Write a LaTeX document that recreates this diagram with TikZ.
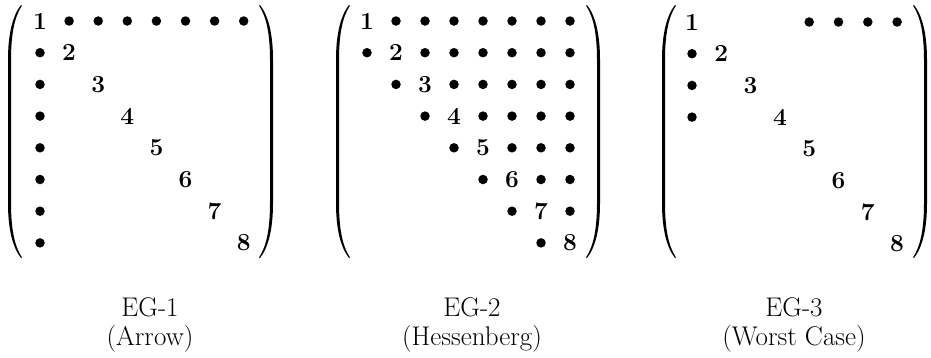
\documentclass[tikz,border=0pt]{standalone}
\begin{document}
\begin{tikzpicture}[x=1pt,y=-1pt,
  dig/.style={font=\fontsize{24.5}{24.5}\selectfont\bfseries, inner sep=0pt},
  lab/.style={font=\fontsize{27}{27}\selectfont, inner sep=0pt, anchor=base},
  dot/.style={circle, fill=black, inner sep=0pt, minimum size=9.5pt},
  lpar/.pic={\fill (0,0) .. controls (-8,10) and (-13,28) .. (-13,55) -- (-13,198)
     .. controls (-13,225) and (-8,243) .. (0,253) -- (0.9,252.4)
     .. controls (-6.5,241) and (-10,224) .. (-10,198) -- (-10,55)
     .. controls (-10,29) and (-6.5,12) .. (0.9,0.6) -- cycle;},
  rpar/.pic={\begin{scope}[xscale=-1]\fill (0,0) .. controls (-8,10) and (-13,28) .. (-13,55) -- (-13,198)
     .. controls (-13,225) and (-8,243) .. (0,253) -- (0.9,252.4)
     .. controls (-6.5,241) and (-10,224) .. (-10,198) -- (-10,55)
     .. controls (-10,29) and (-6.5,12) .. (0.9,0.6) -- cycle;\end{scope}}]
\useasboundingbox (0,0) rectangle (931,357);

% ---------- EG-1 (Arrow)
\foreach \i in {1,...,8} {
  \node[dig] (a\i-\i) at ({40+29.1*(\i-1)},{21+31.7*(\i-1)}) {\i};
}
\foreach \j in {2,...,8} {
  \node[dot] (a1-\j) at ({40+29.1*(\j-1)},21) {};
  \node[dot] (a\j-1) at (40,{21+31.7*(\j-1)}) {};
}
\pic at (21,5) {lpar};
\pic at (260,5) {rpar};
\node[lab] (t1) at (150,316) {EG-1};
\node[lab] (s1) at (150,345) {(Arrow)};

% ---------- EG-2 (Hessenberg)
\foreach \i in {1,...,8} {
  \node[dig] (b\i-\i) at ({367+29.0*(\i-1)},{21+31.7*(\i-1)}) {\i};
  \foreach \j in {1,...,8} {
    \ifnum\j>\i
      \node[dot] (b\i-\j) at ({367+29.0*(\j-1)},{21+31.7*(\i-1)}) {};
    \fi
    \ifnum\j=\numexpr\i-1\relax
      \node[dot] (b\i-\j) at ({367+29.0*(\j-1)},{21+31.7*(\i-1)}) {};
    \fi
  }
}
\pic at (349,5) {lpar};
\pic at (587,5) {rpar};
\node[lab] (t2) at (472,316) {EG-2};
\node[lab] (s2) at (472,345) {(Hessenberg)};

% ---------- EG-3 (Worst Case)
\foreach \i in {1,...,8} {
  \node[dig] (c\i-\i) at ({692+29.3*(\i-1)},{22+31.7*(\i-1)}) {\i};
}
\foreach \j in {5,...,8} {
  \node[dot] (c1-\j) at ({692+29.3*(\j-1)},22) {};
}
\foreach \i in {2,...,4} {
  \node[dot] (c\i-1) at (692,{22+31.7*(\i-1)}) {};
}
\pic at (675,5) {lpar};
\pic at (914,5) {rpar};
\node[lab] (t3) at (794,316) {EG-3};
\node[lab] (s3) at (794,345) {(Worst Case)};
\end{tikzpicture}
\end{document}
